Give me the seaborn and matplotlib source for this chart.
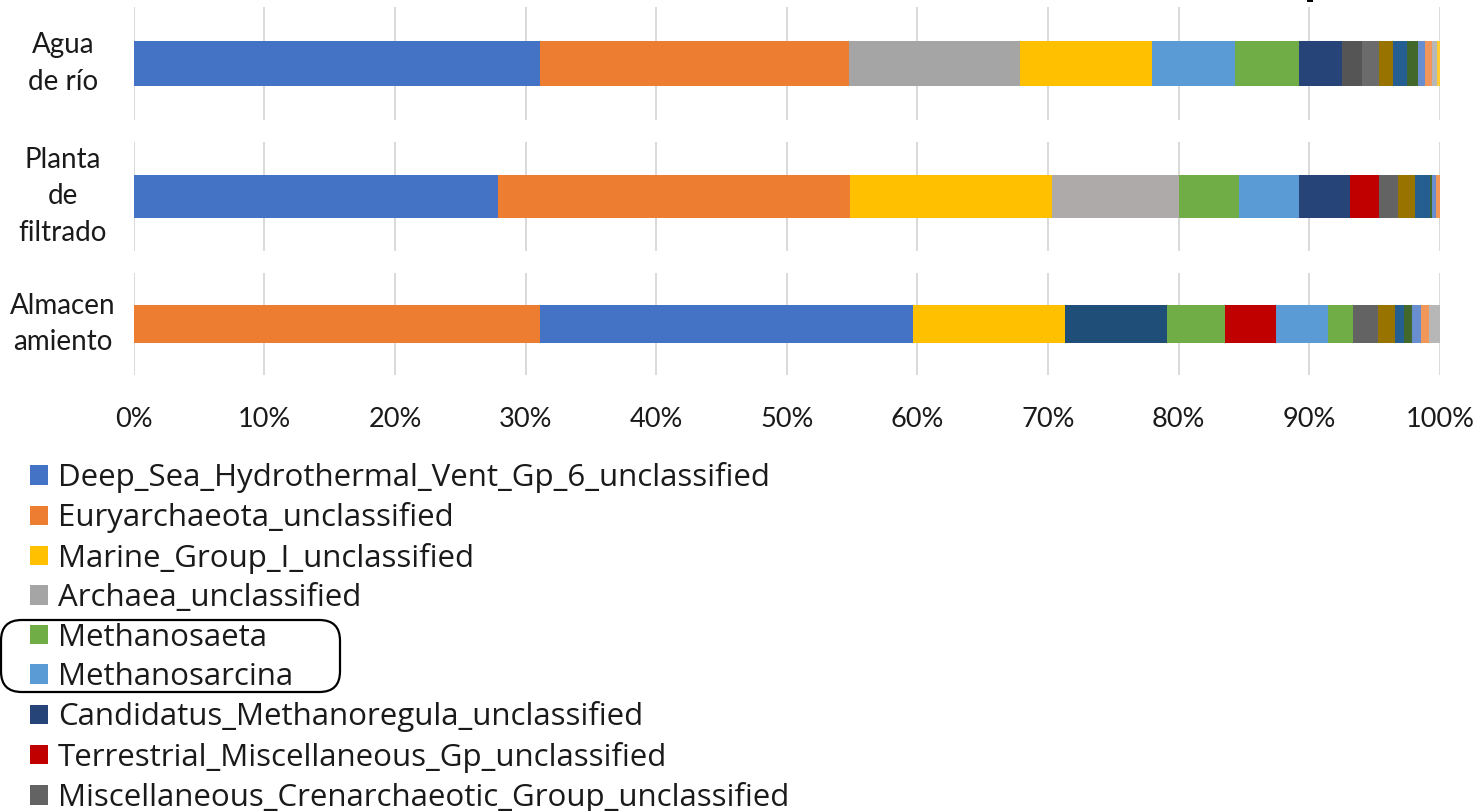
import numpy as np
import matplotlib
matplotlib.use("Agg")
import matplotlib.pyplot as plt
import seaborn as sns
from matplotlib.patches import Patch, FancyBboxPatch, Rectangle

# ---------------- data ----------------
categories = ["Agua\nde río", "Planta\nde\nfiltrado", "Almacen\namiento"]

agua_values = [31.10, 23.65, 13.13, 10.08, 6.37, 4.84, 3.33, 1.53, 1.30, 1.07,
               1.07, 0.81, 0.59, 0.52, 0.38, 0.23]
agua_colors = ["#4472C4", "#ED7D31", "#A5A5A5", "#FFC000", "#5B9BD5", "#70AD47",
               "#264478", "#555555", "#6B6B6B", "#997300", "#255E91", "#43682B",
               "#698ED0", "#F1975A", "#B7B7B7", "#FFCD33"]

planta_values = [27.89, 26.97, 15.41, 9.76, 4.62, 4.55, 3.88, 2.22, 1.48, 1.32,
                 1.10, 0.19, 0.30, 0.31]
planta_colors = ["#4472C4", "#ED7D31", "#FFC000", "#AEAAAA", "#70AD47", "#5B9BD5",
                 "#264478", "#C00000", "#636363", "#997300", "#255E91", "#43682B",
                 "#698ED0", "#F1975A"]

almacen_values = [31.10, 28.57, 11.60, 7.83, 4.46, 3.90, 3.93, 1.97, 1.89, 1.33,
                  0.66, 0.64, 0.69, 0.61, 0.82]
almacen_colors = ["#ED7D31", "#4472C4", "#FFC000", "#1F4E79", "#70AD47", "#C00000",
                  "#5B9BD5", "#70AD47", "#636363", "#997300", "#255E91", "#43682B",
                  "#698ED0", "#F1975A", "#B7B7B7"]

x_ticks = [0, 10, 20, 30, 40, 50, 60, 70, 80, 90, 100]
x_tick_labels = ["0%", "10%", "20%", "30%", "40%", "50%", "60%", "70%", "80%", "90%", "100%"]

legend_labels = ["Deep_Sea_Hydrothermal_Vent_Gp_6_unclassified",
                 "Euryarchaeota_unclassified",
                 "Marine_Group_I_unclassified",
                 "Archaea_unclassified",
                 "Methanosaeta",
                 "Methanosarcina",
                 "Candidatus_Methanoregula_unclassified",
                 "Terrestrial_Miscellaneous_Gp_unclassified",
                 "Miscellaneous_Crenarchaeotic_Group_unclassified"]
legend_colors = ["#4472C4", "#ED7D31", "#FFC000", "#A5A5A5", "#70AD47", "#5B9BD5",
                 "#264478", "#C00000", "#636363"]

# ---------------- style ----------------
sns.set_theme(style="white")
plt.rcParams["font.family"] = ["Lato", "DejaVu Sans"]
FS_TICK = 19.5
FS_CAT = 20
FS_LEG = 22.5
TEXT = "#1a1a1a"

W, H = 1478, 811
fig = plt.figure(figsize=(W / 100, H / 100), dpi=100)

def fx(px):
    return px / W

def fy(py):
    return 1 - py / H

# axes boxes (top, bottom) in pixels
boxes = [(7, 120), (142, 251), (273, 375)]
bar_h = [0.40, 0.40, 0.38]
left_px, right_px = 133.7, 1440

values_list = [agua_values, planta_values, almacen_values]
colors_list = [agua_colors, planta_colors, almacen_colors]

axes = []
for i, ((top, bot), cat, vals, cols) in enumerate(zip(boxes, categories, values_list, colors_list)):
    ax = fig.add_axes([fx(left_px), fy(bot), fx(right_px - left_px), (bot - top) / H])
    cum = np.cumsum(vals)
    for cv, col in reversed(list(zip(cum, cols))):
        sns.barplot(x=[cv], y=[cat], color=col, orient="h", width=bar_h[i],
                    saturation=1, errorbar=None, linewidth=0, ax=ax, zorder=2)
    ax.set_xlim(0, 100)
    ax.set_ylim(0.5, -0.5)
    ax.set_xticks(x_ticks)
    ax.grid(axis="x", color="#D9D9D9", linewidth=1.4, zorder=0)
    ax.grid(axis="y", visible=False)
    ax.set_axisbelow(True)
    for s in ax.spines.values():
        s.set_visible(False)
    ax.set_xlabel("")
    ax.set_ylabel("")
    ax.tick_params(axis="both", length=0)
    ax.tick_params(axis="y", pad=51, labelsize=FS_CAT, labelcolor=TEXT)
    for lbl in ax.get_yticklabels():
        lbl.set_ha("center")
        lbl.set_va("center")
        lbl.set_multialignment("center")
        lbl.set_linespacing(1.52)
    if i < 2:
        ax.tick_params(axis="x", labelbottom=False)
    else:
        ax.set_xticklabels(x_tick_labels)
        ax.tick_params(axis="x", labelsize=FS_TICK, labelcolor=TEXT, pad=23)
    axes.append(ax)

# legend
handles = [Patch(facecolor=c, edgecolor="none") for c in legend_colors]
fig.legend(handles, legend_labels, loc="upper left",
           bbox_to_anchor=(fx(30), fy(462)), frameon=False, borderpad=0,
           borderaxespad=0, handlelength=0.58, handleheight=0.58,
           handletextpad=0.32, labelspacing=0.30,
           prop={"family": ["Open Sans", "DejaVu Sans"], "size": FS_LEG},
           labelcolor=TEXT)

# highlight box around Methanosaeta / Methanosarcina
box = FancyBboxPatch((fx(1), fy(692)), fx(339), (692 - 620) / H,
                     boxstyle="round,pad=0,rounding_size=0.014",
                     transform=fig.transFigure, facecolor="none",
                     edgecolor="black", linewidth=1.6, mutation_aspect=W / H)
fig.patches.append(box)

# small dark mark at the top edge
fig.patches.append(Rectangle((fx(1307), fy(2)), fx(6), 2 / H,
                             transform=fig.transFigure, facecolor="black",
                             edgecolor="none"))

fig.savefig("out.png", dpi=100)
